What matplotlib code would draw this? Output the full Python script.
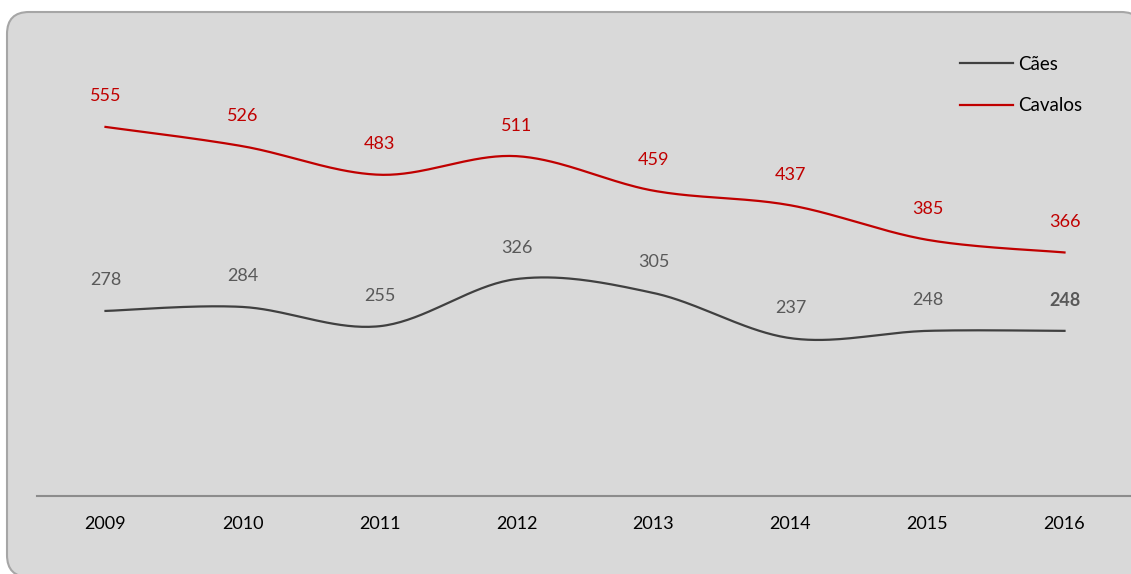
import matplotlib.pyplot as plt
import numpy as np
from matplotlib.patches import FancyBboxPatch

years = ['2009', '2010', '2011', '2012', '2013', '2014', '2015', '2016']
caes = [278, 284, 255, 326, 305, 237, 248, 248]
cavalos = [555, 526, 483, 511, 459, 437, 385, 366]

plt.rcParams['font.family'] = ['Lato', 'DejaVu Sans']


def smooth(x, y, n=40):
    # bezier spline through the points, catmull-rom style tangents
    x = np.asarray(x, float)
    y = np.asarray(y, float)
    px = np.concatenate([[x[0]], x, [x[-1]]])
    py = np.concatenate([[y[0]], y, [y[-1]]])
    xs, ys = [], []
    t = np.linspace(0, 1, n)
    for i in range(len(x) - 1):
        p0 = np.array([px[i + 1], py[i + 1]])
        p3 = np.array([px[i + 2], py[i + 2]])
        c1 = p0 + (np.array([px[i + 2], py[i + 2]]) - np.array([px[i], py[i]])) / 6
        c2 = p3 - (np.array([px[i + 3], py[i + 3]]) - np.array([px[i + 1], py[i + 1]])) / 6
        b = ((1 - t) ** 3)[:, None] * p0 + (3 * (1 - t) ** 2 * t)[:, None] * c1 \
            + (3 * (1 - t) * t ** 2)[:, None] * c2 + (t ** 3)[:, None] * p3
        xs.extend(b[:, 0])
        ys.extend(b[:, 1])
    return np.array(xs), np.array(ys)


W, H = 1131, 574
fig = plt.figure(figsize=(W / 100, H / 100), dpi=100)

# rounded grey panel, slightly clipped on the right and bottom edges
bg = FancyBboxPatch((7, -3), 1136, 562 + 3, boxstyle='round,pad=0,rounding_size=22',
                    transform=None, facecolor='#d9d9d9', edgecolor='#a6a6a6', linewidth=1.5,
                    zorder=-5)
fig.patches.append(bg)

ax = fig.add_axes([37 / W, 78.4 / H, 1096 / W, 465 / H])
ax.set_facecolor('none')
ax.set_xlim(-0.5, len(years) - 0.5)
ax.set_ylim(0, 700)

x = np.arange(len(years))
sx, sy = smooth(x, caes)
ax.plot(sx, sy, color='#404040', linewidth=1.6, label='Cães')
sx, sy = smooth(x, cavalos)
ax.plot(sx, sy, color='#c00000', linewidth=1.6, label='Cavalos')

for i, v in enumerate(caes):
    ax.annotate(str(v), (i, v), xytext=(0, 22), textcoords='offset points',
                ha='center', va='center', fontsize=13, color='#595959',
                fontweight='bold' if i == len(caes) - 1 else 'normal')
for i, v in enumerate(cavalos):
    ax.annotate(str(v), (i, v), xytext=(0, 22), textcoords='offset points',
                ha='center', va='center', fontsize=13, color='#c00000')

for s in ['top', 'right', 'left']:
    ax.spines[s].set_visible(False)
ax.spines['bottom'].set_color('#8c8c8c')
ax.spines['bottom'].set_linewidth(1.5)
ax.set_yticks([])
ax.set_xticks(x)
ax.set_xticklabels(years, fontsize=13, color='#000000')
ax.tick_params(axis='x', length=0, pad=15)

leg = ax.legend(loc='upper left', bbox_to_anchor=(960 / W, (H - 56) / H),
                bbox_transform=fig.transFigure,
                frameon=False, fontsize=13.5, handlelength=2.8, handletextpad=0.3,
                labelspacing=1.3, borderaxespad=0, borderpad=0)
for t in leg.get_texts():
    t.set_color('#000000')

fig.savefig('out.png', dpi=100)
